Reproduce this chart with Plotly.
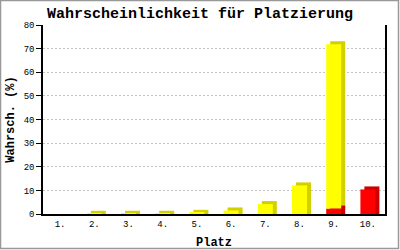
import plotly.graph_objects as go

categories = ["1.", "2.", "3.", "4.", "5.", "6.", "7.", "8.", "9.", "10."]
red_values = [0, 0, 0, 0, 0, 0, 0, 0, 2.3, 10.4]
yellow_values = [0, 0.1, 0.1, 0.1, 0.5, 1.5, 4.2, 12.1, 69.5, 0]
y_ticks = [0, 10, 20, 30, 40, 50, 60, 70, 80]

W, H = 400, 250
ML, MR, MT, MB = 43, 15, 25, 36
pw, ph = W - ML - MR, H - MT - MB
x_range = [0.5, 10.5]
y_range = [0, 80]
px_x = pw / (x_range[1] - x_range[0])
px_y = ph / (y_range[1] - y_range[0])

bar_w = 15 / px_x
dx = 4 / px_x
dy = 3 / px_y

xs = list(range(1, len(categories) + 1))
red_base = [0] * len(xs)
yellow_base = list(red_values)

def back(vals):
    return [(v + dy) if v > 0 else 0 for v in vals]

fig = go.Figure()
# depth (top + side faces)
fig.add_trace(go.Bar(x=xs, y=back(yellow_values), base=yellow_base, width=bar_w,
                     offset=-bar_w / 2 + dx, marker=dict(color="#D2D000", line_width=0)))
fig.add_trace(go.Bar(x=xs, y=back(red_values), base=red_base, width=bar_w,
                     offset=-bar_w / 2 + dx, marker=dict(color="#CC0000", line_width=0)))
# front faces
fig.add_trace(go.Bar(x=xs, y=red_values, base=red_base, width=bar_w,
                     offset=-bar_w / 2, marker=dict(color="#FF0000", line_width=0)))
fig.add_trace(go.Bar(x=xs, y=yellow_values, base=yellow_base, width=bar_w,
                     offset=-bar_w / 2, marker=dict(color="#FFFF00", line_width=0)))

mono = "Liberation Mono"
fig.update_layout(
    width=W, height=H,
    margin=dict(l=ML, r=MR, t=MT, b=MB, pad=0, autoexpand=False),
    paper_bgcolor="white", plot_bgcolor="white",
    barmode="overlay", showlegend=False, hovermode=False,
    title=dict(text="<b>Wahrscheinlichkeit für Platzierung</b>",
               font=dict(family=mono, size=15, color="black"),
               x=0.5, xanchor="center", y=1 - 13 / H, yanchor="middle"),
    xaxis=dict(range=x_range, tickmode="array", tickvals=xs, ticktext=categories,
               automargin=False,
               showgrid=False, zeroline=False, showline=True, linecolor="black",
               linewidth=1.5, ticks="", ticklen=0, ticklabelstandoff=0,
               tickfont=dict(family=mono, size=9, color="black"),
               title=dict(text="<b>Platz</b>", font=dict(family=mono, size=12, color="black"),
                          standoff=13)),
    yaxis=dict(range=y_range, tickmode="array", tickvals=y_ticks,
               automargin=False,
               showgrid=True, gridcolor="#C4C4C4", griddash="2px,2px", gridwidth=1,
               zeroline=False, showline=True, linecolor="black", linewidth=1.5,
               mirror=True, ticks="outside", ticklen=5, tickcolor="black",
               ticklabelstandoff=0,
               tickfont=dict(family=mono, size=9, color="black"),
               title=dict(text="<b>Wahrsch. (%)</b>", font=dict(family=mono, size=12, color="black"),
                          standoff=6)),
)
fig.add_shape(type="rect", xref="paper", yref="paper",
              x0=(0.5 - ML) / pw, x1=(398.5 - ML) / pw,
              y0=-(248.5 - MT - ph) / ph, y1=1 + (MT - 0.5) / ph,
              line=dict(color="#999999", width=1.5), layer="below")

fig.write_html("out.html")
